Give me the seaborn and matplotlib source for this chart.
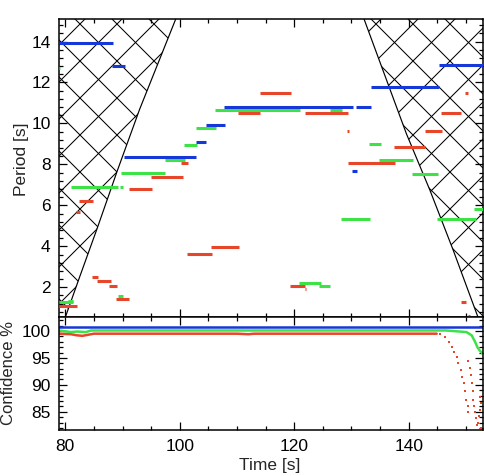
import numpy as np
import pandas as pd
import matplotlib
matplotlib.use("Agg")
import matplotlib.pyplot as plt
import matplotlib.transforms as mtransforms
from matplotlib.patches import Polygon
from matplotlib.ticker import MultipleLocator
import seaborn as sns

# period segments (start time, end time, period) per colour
blue_start = [78.9, 88.2, 90.2, 102.8, 104.5, 107.7, 130.75, 133.4, 145.3, 130.05]
blue_end = [88.4, 90.5, 102.9, 104.65, 107.9, 130.3, 133.5, 145.3, 152.9, 131.0]
blue_period = [13.95, 12.8, 8.38, 9.11, 9.93, 10.82, 10.82, 11.77, 12.85, 7.68]

green_start = [78.9, 80.4, 81.0, 89.6, 89.2, 89.8, 97.4, 100.7, 102.9, 106.1, 126.2,
               133.1, 134.8, 140.6, 128.1, 145.0, 151.4, 120.8, 124.3, 78.9]
green_end = [81.3, 81.3, 89.2, 90.0, 90.0, 97.5, 100.9, 103.1, 106.4, 121.0, 128.4,
             135.1, 140.8, 145.1, 133.2, 151.7, 152.9, 124.6, 126.3, 79.1]
green_period = [1.27, 1.35, 6.92, 6.92, 1.58, 7.57, 8.22, 8.97, 9.8, 10.68, 10.68,
                8.99, 8.22, 7.54, 5.32, 5.32, 5.81, 2.23, 2.07, 12.7]

red_start = [78.9, 81.8, 82.4, 84.7, 85.5, 87.7, 88.8, 91.1, 94.9, 100.3, 101.3, 105.4,
             110.2, 114.1, 119.2, 121.8, 121.8, 129.2, 129.4, 137.4, 142.8, 145.7,
             149.9, 149.1, 150.3]
red_end = [82.0, 82.6, 84.9, 85.8, 88.0, 89.0, 91.2, 95.1, 100.6, 101.5, 105.6, 110.3,
           114.1, 119.5, 121.8, 122.0, 129.4, 129.6, 137.6, 142.9, 145.8, 149.2,
           150.3, 150.0, 150.8]
red_period = [1.09, 5.68, 6.20, 2.52, 2.31, 2.08, 1.44, 6.79, 7.40, 8.09, 3.63, 3.96,
              10.53, 11.51, 2.08, 1.9, 10.53, 9.65, 8.09, 8.84, 9.65, 10.53,
              11.51, 1.30, 0.6]

# cone of influence boundaries
coi_left_time = [79.7, 82.5, 85.6, 89.1, 93.0, 99.3, 99.5]
coi_left_period = [0.3, 2.5, 4.9, 7.7, 10.7, 15.1, 15.4]
coi_right_time = [132.0, 132.2, 135.5, 139.6, 143.7, 147.8, 152.1, 152.3]
coi_right_period = [15.4, 15.1, 12.6, 9.5, 6.75, 3.8, 0.55, 0.3]

# confidence curves
conf_blue_time = [78.9, 152.9]
conf_blue = [100.75, 100.75]
conf_green_time = [78.9, 81.0, 82.0, 83.6, 84.5, 146.5, 150.1, 151.0, 151.6, 152.0, 152.4, 152.9]
conf_green = [100.1, 99.8, 99.9, 99.8, 100.1, 100.1, 99.8, 99.2, 98.0, 97.0, 96.4, 95.8]
conf_red_time = [78.9, 81.0, 82.0, 83.0, 84.0, 85.0, 110.0, 112.0, 113.0, 144.9]
conf_red = [99.5, 99.4, 99.2, 99.1, 99.3, 99.5, 99.5, 99.4, 99.5, 99.5]
# scattered low-confidence points at the end
drop_time = [145.4, 146.3, 147.1, 147.5, 147.9, 148.4, 148.6, 149.1, 149.4, 149.6, 149.9,
             150.1, 150.3, 150.4, 150.4, 150.7, 150.9, 151.0, 151.2, 151.3, 151.4, 151.6,
             151.8, 152.0, 152.45, 152.6, 152.45, 152.3, 152.1, 152.7]
drop_conf = [99.5, 98.9, 98.0, 97.0, 96.1, 95.2, 94.0, 92.8, 91.5, 90.3, 88.8,
             87.2, 86.0, 85.0, 94.4, 93.1, 91.9, 90.3, 88.8, 87.2, 86.0, 85.0,
             83.8, 82.5, 87.8, 86.6, 85.4, 84.2, 83.0, 82.0]

BLUE = "#1638d8"
GREEN = "#3ce246"
RED = "#e8462a"

sns.set_style("ticks")
plt.rcParams["font.family"] = ["Liberation Sans", "DejaVu Sans"]
plt.rcParams["font.size"] = 12.5

W, H = 484, 476
fig = plt.figure(figsize=(W / 100, H / 100), dpi=100, facecolor="white")
ax1 = fig.add_axes([59 / W, 1 - 317 / H, 423.5 / W, 298 / H])
ax2 = fig.add_axes([59 / W, 1 - 429.5 / H, 423.5 / W, 112.5 / H])

XMIN, XMAX = 78.9, 152.9

# build long table of segments
rows = []
seg = 0
for name, st, en, pr in [("red", red_start, red_end, red_period),
                         ("green", green_start, green_end, green_period),
                         ("blue", blue_start, blue_end, blue_period)]:
    for a, b, p in zip(st, en, pr):
        rows.append({"time": a, "period": p, "series": name, "seg": seg})
        rows.append({"time": b, "period": p, "series": name, "seg": seg})
        seg += 1
seg_df = pd.DataFrame(rows)
palette = {"blue": BLUE, "green": GREEN, "red": RED}

sns.lineplot(data=seg_df, x="time", y="period", hue="series", units="seg",
             estimator=None, sort=False, palette=palette, legend=False,
             linewidth=2.2, solid_capstyle="butt", ax=ax1, zorder=3)

# cone of influence with hand-made cross hatch
pix = mtransforms.Affine2D().scale(1 / W, -1 / H).translate(0, 1) + fig.transFigure
left_poly = list(zip(coi_left_time, coi_left_period)) + [(XMIN - 2, 15.4), (XMIN - 2, 0.3)]
right_poly = list(zip(coi_right_time, coi_right_period)) + [(XMAX + 2, 0.3), (XMAX + 2, 15.4)]
spacing = 37
for poly in (left_poly, right_poly):
    patch = Polygon(poly, closed=True, facecolor="none", edgecolor="none",
                    transform=ax1.transData)
    ax1.add_patch(patch)
    for k in range(-20, 20):
        for sign, off in ((1, 18), (-1, 30)):
            c = off + spacing * k
            xs = np.array([0, W])
            ys = sign * xs + c
            (ln,) = ax1.plot(xs, ys, color="black", lw=0.75, transform=pix, zorder=2)
            ln.set_clip_path(patch)
ax1.plot(coi_left_time, coi_left_period, color="black", lw=0.85, zorder=2)
ax1.plot(coi_right_time, coi_right_period, color="black", lw=0.85, zorder=2)

ax1.set_xlim(XMIN, XMAX)
ax1.set_ylim(0.55, 15.1)
ax1.yaxis.set_major_locator(MultipleLocator(2))
ax1.yaxis.set_minor_locator(MultipleLocator(0.4))
ax1.set_ylabel("Period [s]")
ax1.yaxis.set_label_coords(-0.072, 0.53)
ax1.set_xlabel("")
ax1.tick_params(labelbottom=False)

# confidence panel
sns.lineplot(x=conf_red_time, y=conf_red, color=RED, lw=1.8, ax=ax2)
sns.lineplot(x=conf_green_time, y=conf_green, color=GREEN, lw=1.8, ax=ax2)
sns.lineplot(x=conf_blue_time, y=conf_blue, color=BLUE, lw=1.8, ax=ax2)
sns.scatterplot(x=drop_time, y=drop_conf, color=RED, s=4.5, marker="s",
                linewidth=0, ax=ax2)
ax2.set_xlim(XMIN, XMAX)
ax2.set_ylim(81.7, 102.6)
ax2.yaxis.set_major_locator(MultipleLocator(5))
ax2.yaxis.set_minor_locator(MultipleLocator(1))
ax2.set_ylabel("Confidence %", fontsize=12)
ax2.yaxis.set_label_coords(-0.102, 0.5)
ax2.set_xlabel("Time [s]")
ax2.xaxis.set_label_coords(0.498, -0.25)

for ax in (ax1, ax2):
    ax.xaxis.set_major_locator(MultipleLocator(20))
    ax.xaxis.set_minor_locator(MultipleLocator(5))
    ax.tick_params(which="both", direction="in", top=True, right=True,
                   width=0.9, colors="black", labelsize=12.5)
    ax.tick_params(which="major", length=6)
    ax.tick_params(which="minor", length=3)
    ax.tick_params(axis="y", pad=6)
    ax.tick_params(axis="x", pad=7)
    for sp in ax.spines.values():
        sp.set_linewidth(1.1)
        sp.set_color("black")

fig.savefig("out.png", dpi=100, facecolor="white")
